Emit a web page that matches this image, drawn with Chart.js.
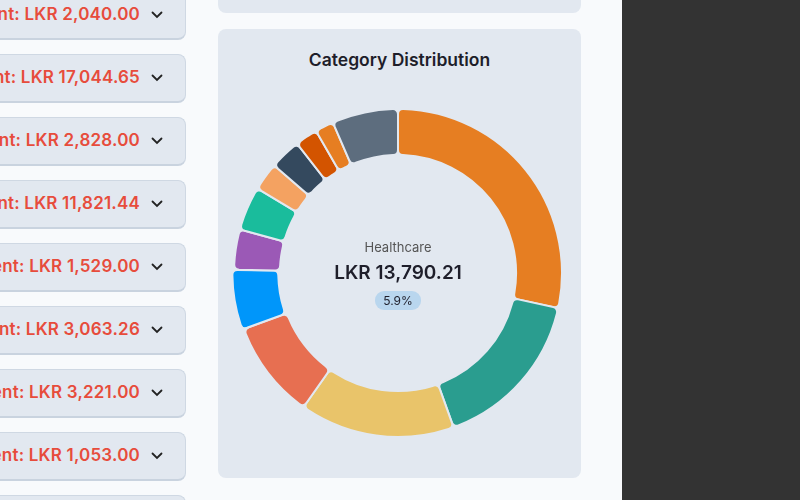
<!DOCTYPE html>
<html lang="en">
<head>
  <meta charset="UTF-8">
  <title>Category Distribution</title>
  <script src="https://cdn.jsdelivr.net/npm/chart.js"></script>
  <style>
    body { margin: 0; width: 800px; height: 500px; overflow: hidden; background: #f8fafc; font-family: Inter, "Noto Sans", sans-serif; position: relative; }
    .row { position: absolute; left: -200px; width: 386px; height: 49px; background: #e2e8f0; border: 1px solid #cfd8e3; border-bottom: 2px solid #c9d3df; border-radius: 8px; box-sizing: border-box; }
    .row span { position: absolute; right: 45px; top: 12px; color: #e74c3c; font-weight: 600; font-size: 17px; white-space: nowrap; letter-spacing: 0.2px; }
    .row svg { position: absolute; right: 22px; top: 19px; }
    .topcard { position: absolute; left: 218px; top: -20px; width: 363px; height: 33px; background: #e2e8f0; border-radius: 8px; }
    .card { position: absolute; left: 218px; top: 29px; width: 363px; height: 449px; background: #e2e8f0; border-radius: 8px; }
    .card h3 { margin: 0; position: absolute; top: 20px; width: 100%; text-align: center; font-size: 17.5px; font-weight: 600; color: #1e1e2a; }
    #wrap { position: absolute; left: 231px; top: 106px; width: 334px; height: 334px; }
    #center { position: absolute; left: 298px; top: 239px; width: 200px; text-align: center; }
    #cat { font-size: 13px; color: #555; }
    #amt { font-size: 19px; font-weight: 600; color: #1e1e2a; margin-top: 6px; }
    #pct { display: inline-block; margin-top: 7px; background: #b9d6ee; border-radius: 9px; padding: 2px 8px; font-size: 12px; color: #1e1e2a; }
    .shade { position: absolute; left: 622px; top: 0; width: 178px; height: 500px; background: #333333; }
  </style>
</head>
<body>
  <div id="rows"></div>
  <div class="topcard"></div>
  <div class="card"><h3>Category Distribution</h3></div>
  <div id="wrap"><canvas id="pie"></canvas></div>
  <div id="center">
    <div id="cat"></div>
    <div id="amt"></div>
    <div id="pct"></div>
  </div>
  <div class="shade"></div>

  <script>
    const spentTotals = ["2,040.00", "17,044.65", "2,828.00", "11,821.44", "1,529.00", "3,063.26", "3,221.00", "1,053.00", ""];

    const categories = ["Food & Dining", "Transport", "Housing", "Utilities", "Healthcare", "Entertainment", "Shopping", "Education", "Insurance", "Personal Care", "Gifts", "Other"];
    const amounts = [66480, 37530, 35710, 22590, 13790.21, 9220, 10130, 6490, 7140, 5190, 4290, 15190];
    const colors = ["#e67e22", "#2a9d8f", "#e9c46a", "#e76f51", "#0096fa", "#9b59b6", "#1abc9c", "#f4a261", "#34495e", "#d35400", "#e67e22", "#5d6d7e"];
    const active = 4;

    // left list cards
    const rows = document.getElementById("rows");
    spentTotals.forEach((v, i) => {
      const d = document.createElement("div");
      d.className = "row";
      d.style.top = (-9 + i * 63) + "px";
      if (v) {
        d.innerHTML = '<span>Total Spent: LKR ' + v + '</span>' +
          '<svg width="12" height="8" viewBox="0 0 12 8"><path d="M1.5 1.5 L6 6 L10.5 1.5" fill="none" stroke="#222" stroke-width="1.8" stroke-linecap="round"/></svg>';
      }
      rows.appendChild(d);
    });

    const total = amounts.reduce((a, b) => a + b, 0);
    document.getElementById("cat").textContent = categories[active];
    document.getElementById("amt").textContent = "LKR " + amounts[active].toLocaleString("en-US", { minimumFractionDigits: 2 });
    document.getElementById("pct").textContent = (amounts[active] / total * 100).toFixed(1) + "%";

    new Chart(document.getElementById("pie"), {
      type: "doughnut",
      data: {
        labels: categories,
        datasets: [{
          data: amounts,
          backgroundColor: colors,
          borderColor: "#e2e8f0",
          borderWidth: 2,
          borderRadius: 5,
          offset: amounts.map((v, i) => i === active ? 4 : 0)
        }]
      },
      options: {
        responsive: true,
        maintainAspectRatio: false,
        animation: false,
        cutout: "72%",
        plugins: { legend: { display: false }, tooltip: { enabled: false } }
      }
    });
  </script>
</body>
</html>
